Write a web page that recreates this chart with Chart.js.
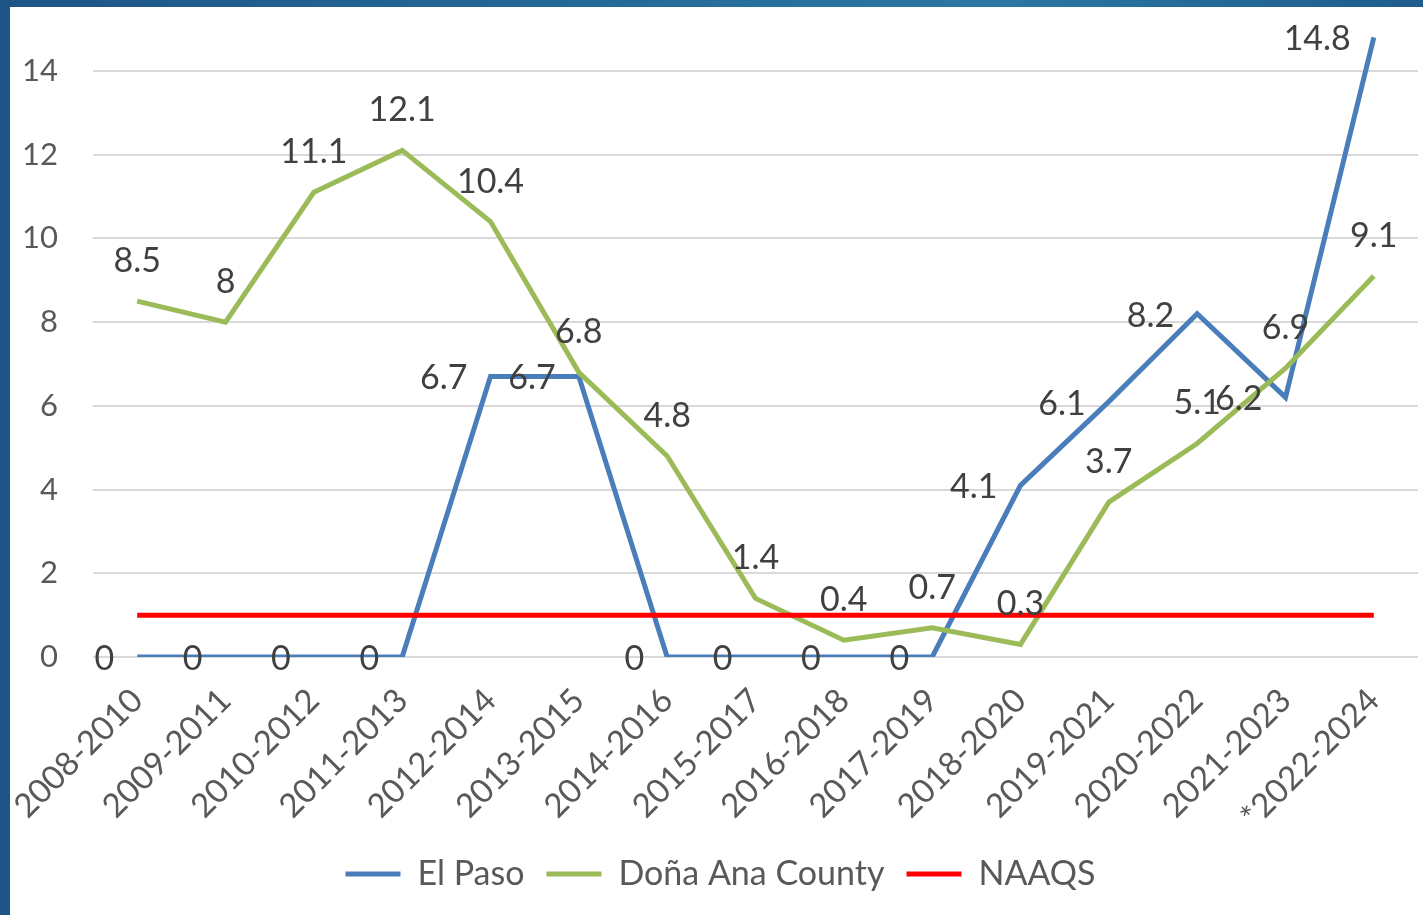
<!DOCTYPE html>
<html>
<head>
<meta charset="utf-8">
<script src="https://cdn.jsdelivr.net/npm/chart.js@4/dist/chart.umd.min.js"></script>
<style>
  html, body { margin: 0; padding: 0; }
  body {
    width: 1423px; height: 915px; overflow: hidden;
    background: linear-gradient(90deg, #1d5586 0%, #2a78a3 70%, #1e5c8c 100%);
    position: relative;
  }
  #box {
    position: absolute; left: 10px; top: 7px; right: 0; bottom: 0;
    background: #fff;
  }
</style>
</head>
<body>
<div id="box"><canvas id="myChart"></canvas></div>
<script>
// periods along the bottom
const periods = ["2008-2010", "2009-2011", "2010-2012", "2011-2013", "2012-2014", "2013-2015",
  "2014-2016", "2015-2017", "2016-2018", "2017-2019", "2018-2020", "2019-2021",
  "2020-2022", "2021-2023", "*2022-2024"];

// values
const elPaso = [0, 0, 0, 0, 6.7, 6.7, 0, 0, 0, 0, 4.1, 6.1, 8.2, 6.2, 14.8];
const donaAna = [8.5, 8, 11.1, 12.1, 10.4, 6.8, 4.8, 1.4, 0.4, 0.7, 0.3, 3.7, 5.1, 6.9, 9.1];
const naaqs = [1, 1, 1, 1, 1, 1, 1, 1, 1, 1, 1, 1, 1, 1, 1];

const yTicks = [0, 2, 4, 6, 8, 10, 12, 14];

const FONT = 'Lato, "Liberation Sans", sans-serif';

// draws the numbers next to the points (left for El Paso, above for Dona Ana)
const valueLabels = {
  id: 'valueLabels',
  afterDatasetsDraw(chart) {
    const ctx = chart.ctx;
    ctx.save();
    ctx.font = '34px ' + FONT;
    ctx.fillStyle = '#404040';
    ctx.textBaseline = 'middle';
    chart.data.datasets.forEach((ds, i) => {
      if (!ds.labelPos) return;
      const meta = chart.getDatasetMeta(i);
      meta.data.forEach((pt, j) => {
        const txt = String(ds.data[j]);
        if (ds.labelPos === 'left') {
          ctx.textAlign = 'right';
          ctx.fillText(txt, pt.x - 23, pt.y + 2);
        } else {
          ctx.textAlign = 'center';
          ctx.fillText(txt, pt.x, pt.y - 40);
        }
      });
    });
    ctx.restore();
  }
};

const myChart = document.getElementById('myChart');

let lineChart = new Chart(myChart, {
  type: 'line',
  data: {
    labels: periods,
    datasets: [
      {
        label: 'El Paso',
        data: elPaso,
        borderColor: '#4a7ebb',
        backgroundColor: '#4a7ebb',
        borderWidth: 5,
        pointRadius: 0,
        tension: 0,
        order: 3,
        labelPos: 'left'
      },
      {
        label: 'Doña Ana County',
        data: donaAna,
        borderColor: '#9bbb59',
        backgroundColor: '#9bbb59',
        borderWidth: 5,
        pointRadius: 0,
        tension: 0,
        order: 2,
        labelPos: 'above'
      },
      {
        label: 'NAAQS',
        data: naaqs,
        borderColor: '#ff0000',
        backgroundColor: '#ff0000',
        borderWidth: 5,
        pointRadius: 0,
        tension: 0,
        order: 1
      }
    ]
  },
  options: {
    responsive: true,
    maintainAspectRatio: false,
    animation: false,
    layout: { autoPadding: false, padding: { left: 13, right: 5, top: 22, bottom: 14 } },
    plugins: {
      tooltip: { enabled: false },
      legend: {
        position: 'bottom',
        labels: {
          usePointStyle: true,
          pointStyle: 'line',
          pointStyleWidth: 55,
          padding: 22,
          color: '#595959',
          font: { family: FONT, size: 34 },
          sort: (a, b) => a.datasetIndex - b.datasetIndex
        }
      }
    },
    scales: {
      x: {
        offset: true,
        grid: { display: false, drawTicks: false },
        border: { display: false },
        afterFit: (scale) => { scale.paddingLeft = 0; scale.paddingRight = 0; scale.height = 178; },
        ticks: {
          minRotation: 45,
          maxRotation: 45,
          padding: 24,
          color: '#595959',
          font: { family: FONT, size: 33 }
        }
      },
      y: {
        min: 0,
        max: 15,
        afterBuildTicks: (scale) => { scale.ticks = yTicks.map(v => ({ value: v })); },
        afterFit: (scale) => { scale.paddingTop = 0; scale.paddingBottom = 0; scale.width = 70; },
        grid: { color: '#d9d9d9', lineWidth: 2, drawTicks: false },
        border: { display: false },
        ticks: {
          padding: 35,
          color: '#595959',
          font: { family: FONT, size: 31 }
        }
      }
    }
  },
  plugins: [valueLabels]
});
</script>
</body>
</html>
